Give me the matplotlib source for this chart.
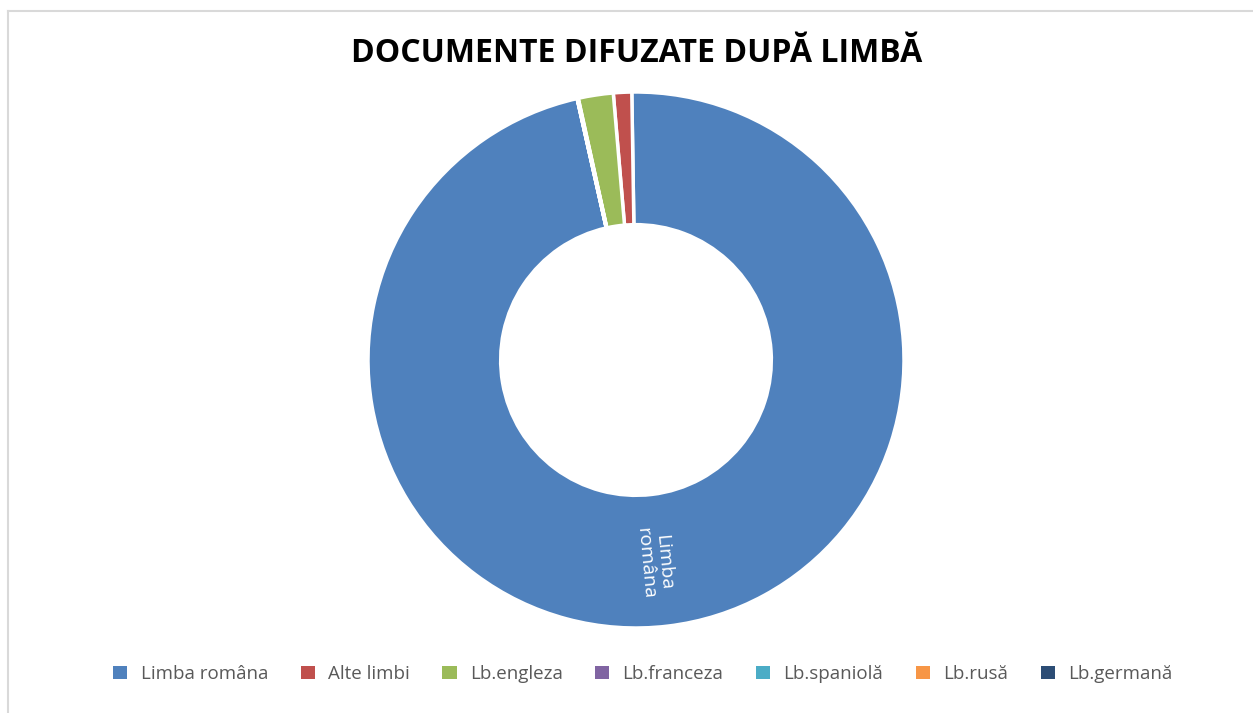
import numpy as np
import matplotlib.pyplot as plt
from matplotlib.lines import Line2D
from matplotlib.patches import Patch

plt.rcParams['font.family'] = ['Open Sans', 'DejaVu Sans']

limbi = ['Limba româna', 'Alte limbi', 'Lb.engleza', 'Lb.franceza',
         'Lb.spaniolă', 'Lb.rusă', 'Lb.germană']
documente = [9650, 110, 210, 3, 1, 2, 1]
culori = ['#4F81BD', '#C0504D', '#9BBB59', '#8064A2',
          '#4BACC6', '#F79646', '#2C4D75']

fig = plt.figure(figsize=(12.53, 7.13), dpi=100)
ax = fig.add_axes([(636 - 268) / 1253, 1 - 628 / 713, 536 / 1253, 536 / 713])

# excel draws this one going the other way round; blue ends just right of 12 o'clock
start = 90.9 - 360 * documente[0] / sum(documente)
wedges, _ = ax.pie(documente, colors=culori, startangle=start, counterclock=True,
                   wedgeprops=dict(width=0.495, edgecolor='white', linewidth=2.5))
ax.set_aspect('equal')
ax.set_xlim(-1, 1)
ax.set_ylim(-1, 1)

w = wedges[0]
mid = np.deg2rad((w.theta1 + w.theta2) / 2 - 1.6)
r = 0.76
ax.text(r * np.cos(mid), r * np.sin(mid), 'Limba\nromâna', color='white',
        fontsize=14, ha='center', va='center', rotation=np.rad2deg(mid),
        rotation_mode='anchor', linespacing=1.0)

fig.text(0.508, 1 - 54 / 713, 'DOCUMENTE DIFUZATE DUPĂ LIMBĂ', ha='center',
         va='center', fontsize=23, fontweight='bold', color='black')

handles = [Patch(facecolor=c, edgecolor='none') for c in culori]
fig.legend(handles, limbi, loc='center', bbox_to_anchor=(0.513, 1 - 674 / 713),
           ncol=7, frameon=False, fontsize=13.5, handlelength=0.75,
           handleheight=0.75, columnspacing=1.75, handletextpad=0.7,
           labelcolor='#595959')

fig.add_artist(Line2D([8 / 1253, 8 / 1253], [0, 1 - 11 / 713],
                      transform=fig.transFigure, color='#d9d9d9', lw=1.5))
fig.add_artist(Line2D([8 / 1253, 1], [1 - 11 / 713, 1 - 11 / 713],
                      transform=fig.transFigure, color='#d9d9d9', lw=1.5))

fig.savefig('out.png', dpi=100)
